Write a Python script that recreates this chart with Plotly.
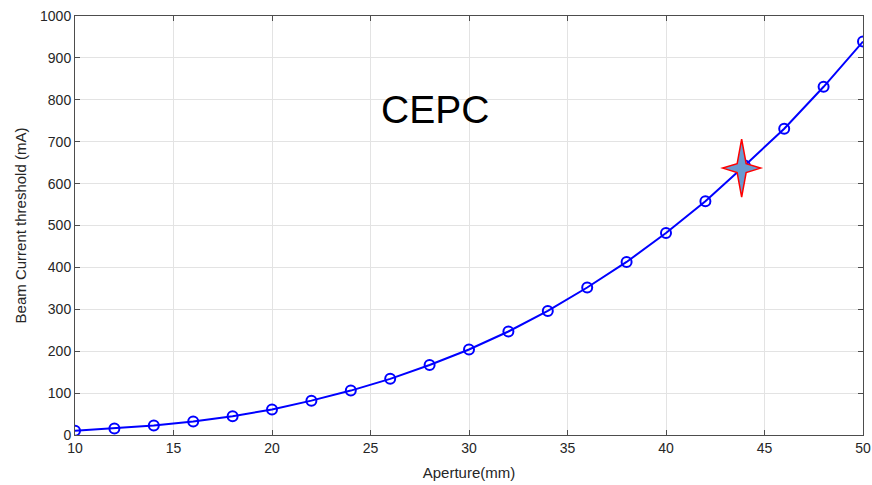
import plotly.graph_objects as go

# Beam current threshold vs. chamber aperture
aperture_mm = [10, 12, 14, 16, 18, 20, 22, 24, 26, 28, 30,
               32, 34, 36, 38, 40, 42, 44, 46, 48, 50]
threshold_mA = [10, 15.5, 22.5, 32, 45, 61, 82, 106, 134, 167, 204,
                247, 296, 352, 413, 482, 558, 643, 731, 831, 939]

# Design point marked with a star
design_aperture = 43.84
design_threshold = 637

x_ticks = [10, 15, 20, 25, 30, 35, 40, 45, 50]
y_ticks = [0, 100, 200, 300, 400, 500, 600, 700, 800, 900, 1000]

fig = go.Figure()

fig.add_trace(go.Scatter(
    x=aperture_mm, y=threshold_mA,
    mode="lines+markers",
    line=dict(color="#0000ff", width=2),
    marker=dict(symbol="circle-open", size=10, color="#0000ff",
                line=dict(width=2, color="#0000ff")),
    showlegend=False,
))

# Four-pointed star drawn in pixels around the design point
star_path = ("M 0 29 L 4.5 4.5 L 19 0 L 4.5 -4.5 L 0 -29 "
             "L -4.5 -4.5 L -19 0 L -4.5 4.5 Z")
fig.add_shape(
    type="path", path=star_path,
    xref="x", yref="y",
    xsizemode="pixel", ysizemode="pixel",
    xanchor=design_aperture, yanchor=design_threshold,
    fillcolor="#6a9ad0", line=dict(color="#ff0000", width=1.5),
    layer="above",
)

fig.add_annotation(
    x=28.27, y=778, xref="x", yref="y",
    text="CEPC", showarrow=False,
    font=dict(family="Liberation Sans, Arial, sans-serif", size=39, color="#000000"),
)

axis_common = dict(
    showline=True, linecolor="#4d4d4d", linewidth=1, mirror="ticks",
    ticks="inside", ticklen=5, tickcolor="#4d4d4d",
    showgrid=True, gridcolor="#e3e3e3", gridwidth=1,
    zeroline=False, automargin=False,
    tickfont=dict(family="Liberation Sans, Arial, sans-serif", size=14, color="#262626"),
)

fig.update_xaxes(
    range=[10, 50], tickvals=x_ticks,
    title=dict(text="Aperture(mm)", standoff=12,
               font=dict(family="Liberation Sans, Arial, sans-serif", size=15, color="#262626")),
    **axis_common,
)
fig.update_yaxes(
    range=[0, 1000], tickvals=y_ticks,
    title=dict(text="Beam Current threshold (mA)", standoff=9,
               font=dict(family="Liberation Sans, Arial, sans-serif", size=15, color="#262626")),
    **axis_common,
)

fig.update_layout(
    width=872, height=485,
    margin=dict(l=75, r=9, t=16, b=50),
    paper_bgcolor="#ffffff", plot_bgcolor="#ffffff",
)

fig.write_html("out.html")
